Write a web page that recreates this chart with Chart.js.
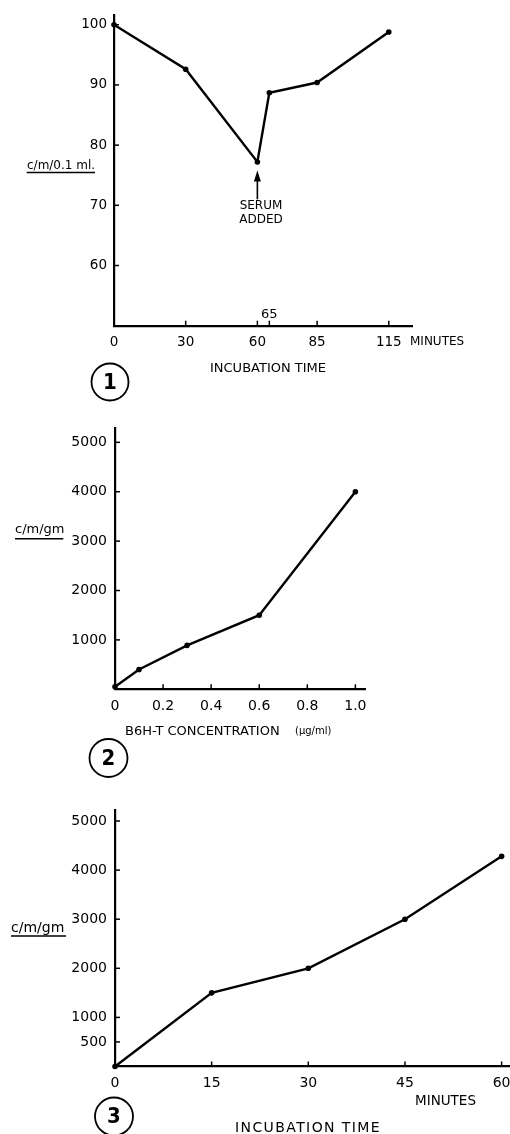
<!DOCTYPE html>
<html>
<head>
<meta charset="utf-8">
<script src="https://cdn.jsdelivr.net/npm/chart.js@4.4.0/dist/chart.umd.min.js"></script>
<style>
  html, body { margin: 0; padding: 0; background: #fff; width: 510px; height: 1134px; overflow: hidden; }
  canvas { position: absolute; left: 0; top: 0; pointer-events: none; }
</style>
</head>
<body>
<canvas id="c1" width="560" height="1134"></canvas>
<canvas id="c2" width="560" height="1134"></canvas>
<canvas id="c3" width="560" height="1134"></canvas>
<script>
// ---------- Data: figure 1 ----------
const xValues1 = [0, 30, 60, 65, 85, 115];
const yValues1 = [100, 92.6, 77.2, 88.7, 90.4, 98.8];
const xTicks1 = [0, 30, 60, 65, 85, 115];
const xTickLabels1 = ['0', '30', '60', '', '85', '115'];
const yTicks1 = [60, 70, 80, 90, 100];

// ---------- Data: figure 2 ----------
const xValues2 = [0, 0.1, 0.3, 0.6, 1.0];
const yValues2 = [50, 400, 890, 1500, 4000];
const xTicks2 = [0, 0.2, 0.4, 0.6, 0.8, 1.0];
const xTickLabels2 = ['0', '0.2', '0.4', '0.6', '0.8', '1.0'];
const yTicks2 = [1000, 2000, 3000, 4000, 5000];

// ---------- Data: figure 3 ----------
const xValues3 = [0, 15, 30, 45, 60];
const yValues3 = [0, 1500, 2000, 3000, 4280];
const xTicks3 = [0, 15, 30, 45, 60];
const xTickLabels3 = ['0', '15', '30', '45', '60'];
const yTicks3 = [500, 1000, 2000, 3000, 4000, 5000];

Chart.defaults.font.family = "'DejaVu Sans', sans-serif";
Chart.defaults.color = '#000';
Chart.defaults.animation = false;

const INK = '#000';

function text(ctx, s, x, y, font, align, spacing) {
  ctx.save();
  ctx.font = font;
  ctx.fillStyle = INK;
  ctx.textAlign = align || 'left';
  ctx.textBaseline = 'middle';
  if (spacing) ctx.letterSpacing = spacing;
  ctx.fillText(s, x, y);
  ctx.restore();
}
function hline(ctx, x1, x2, y, w) {
  ctx.save(); ctx.strokeStyle = INK; ctx.lineWidth = w || 1.5;
  ctx.beginPath(); ctx.moveTo(x1, y); ctx.lineTo(x2, y); ctx.stroke(); ctx.restore();
}
function circled(ctx, cx, cy, r, label) {
  ctx.save();
  ctx.strokeStyle = INK; ctx.lineWidth = 1.8;
  ctx.beginPath(); ctx.arc(cx, cy, r, 0, Math.PI * 2); ctx.stroke();
  ctx.restore();
  text(ctx, label, cx, cy + 1, "bold 22px 'DejaVu Sans Condensed', 'DejaVu Sans', sans-serif", 'center');
}
function inwardTicks(chart, skipX0) {
  const ctx = chart.ctx, xs = chart.scales.x, ys = chart.scales.y, a = chart.chartArea;
  ctx.save(); ctx.strokeStyle = INK; ctx.lineWidth = 1.5;
  xs.ticks.forEach(t => {
    if (skipX0 && t.value === 0) return;
    const px = xs.getPixelForValue(t.value);
    ctx.beginPath(); ctx.moveTo(px, a.bottom); ctx.lineTo(px, a.bottom - 5); ctx.stroke();
  });
  ys.ticks.forEach(t => {
    const py = ys.getPixelForValue(t.value);
    ctx.beginPath(); ctx.moveTo(a.left, py); ctx.lineTo(a.left + 5, py); ctx.stroke();
  });
  ctx.restore();
}

function makeChart(id, xv, yv, xt, xl, yt, xRange, yRange, area, fontSize, tickPad, decor) {
  const W = 560, H = 1134, xH = 30;
  return new Chart(document.getElementById(id), {
    type: 'line',
    data: {
      datasets: [{
        data: xv.map((x, i) => ({ x: x, y: yv[i] })),
        borderColor: INK,
        backgroundColor: INK,
        borderWidth: 2.4,
        pointRadius: 2.8,
        pointBorderWidth: 0,
        tension: 0,
        clip: false
      }]
    },
    options: {
      responsive: false,
      devicePixelRatio: 1,
      layout: { padding: { left: 0, top: area.top, right: W - area.right, bottom: H - area.bottom - xH } },
      plugins: { legend: { display: false }, tooltip: { enabled: false } },
      scales: {
        x: {
          type: 'linear', min: xRange[0], max: xRange[1],
          afterBuildTicks: s => { s.ticks = xt.map(v => ({ value: v })); },
          afterFit: s => { s.height = xH; },
          ticks: { autoSkip: false, maxRotation: 0, padding: tickPad.x, color: INK,
                   font: { size: fontSize },
                   callback: (v, i) => xl[i] },
          grid: { display: true, drawOnChartArea: false, drawTicks: false },
          border: { display: true, color: INK, width: 2.2 }
        },
        y: {
          type: 'linear', min: yRange[0], max: yRange[1],
          afterBuildTicks: s => { s.ticks = yt.map(v => ({ value: v })); },
          afterFit: s => { s.width = area.left; },
          ticks: { autoSkip: false, padding: tickPad.y, color: INK,
                   font: { size: fontSize },
                   callback: v => String(v) },
          grid: { display: true, drawOnChartArea: false, drawTicks: false },
          border: { display: true, color: INK, width: 2.2 }
        }
      }
    },
    plugins: [{ id: 'decor_' + id, afterDraw: decor }]
  });
}

// Figure 1
makeChart('c1', xValues1, yValues1, xTicks1, xTickLabels1, yTicks1,
  [0, 125], [50, 101.6], { left: 114, right: 412.7, top: 8, bottom: 325.7 }, 13.5, { x: 9, y: 7 },
  function (chart) {
    const ctx = chart.ctx, xs = chart.scales.x, ys = chart.scales.y;
    inwardTicks(chart, true);
    // "65" label above the axis
    text(ctx, '65', xs.getPixelForValue(65), 314.3, "13px 'DejaVu Sans'", 'center');
    // arrow: serum added at 60 minutes
    const ax = xs.getPixelForValue(60);
    const tip = ys.getPixelForValue(75.8), tail = ys.getPixelForValue(71.0);
    ctx.save(); ctx.strokeStyle = INK; ctx.fillStyle = INK; ctx.lineWidth = 1.6;
    ctx.beginPath(); ctx.moveTo(ax, tail); ctx.lineTo(ax, tip + 8); ctx.stroke();
    ctx.beginPath(); ctx.moveTo(ax, tip); ctx.lineTo(ax - 3.5, tip + 11); ctx.lineTo(ax + 3.5, tip + 11); ctx.closePath(); ctx.fill();
    ctx.restore();
    text(ctx, 'SERUM', 261, 206, "12px 'DejaVu Sans'", 'center');
    text(ctx, 'ADDED', 261, 219.5, "12px 'DejaVu Sans'", 'center');
    // y-axis label
    text(ctx, 'c/m/0.1 ml.', 27, 166, "12px 'DejaVu Sans'", 'left');
    hline(ctx, 26.7, 95, 172.5, 1.5);
    text(ctx, 'MINUTES', 410, 341.7, "12px 'DejaVu Sans'", 'left');
    text(ctx, 'INCUBATION TIME', 268, 368.7, "13px 'DejaVu Sans'", 'center');
    circled(ctx, 110, 382, 18.5, '1');
  });

// Figure 2
makeChart('c2', xValues2, yValues2, xTicks2, xTickLabels2, yTicks2,
  [0, 1.04], [0, 5290], { left: 115, right: 365, top: 428, bottom: 689.3 }, 14, { x: 9, y: 8 },
  function (chart) {
    const ctx = chart.ctx;
    inwardTicks(chart, true);
    text(ctx, 'B6H-T CONCENTRATION', 125, 732, "13px 'DejaVu Sans'", 'left');
    text(ctx, '(\u00b5g/ml)', 295, 731, "10px 'DejaVu Sans'", 'left');
    text(ctx, 'c/m/gm', 15, 530, "13px 'DejaVu Sans'", 'left');
    hline(ctx, 15, 63.3, 538.7, 1.5);
    circled(ctx, 108.5, 758, 19, '2');
  });

// Figure 3
makeChart('c3', xValues3, yValues3, xTicks3, xTickLabels3, yTicks3,
  [0, 61.3], [0, 5224], { left: 115, right: 510, top: 810, bottom: 1066.5 }, 14, { x: 8, y: 8 },
  function (chart) {
    const ctx = chart.ctx;
    inwardTicks(chart, true);
    text(ctx, 'MINUTES', 415, 1101.7, "13.5px 'DejaVu Sans'", 'left');
    text(ctx, 'INCUBATION TIME', 308, 1128, "14px 'DejaVu Sans'", 'center', '1.4px');
    text(ctx, 'c/m/gm', 11, 928, "14px 'DejaVu Sans'", 'left');
    hline(ctx, 11, 66, 936, 1.5);
    circled(ctx, 114, 1116.5, 19, '3');
  });
</script>
</body>
</html>
